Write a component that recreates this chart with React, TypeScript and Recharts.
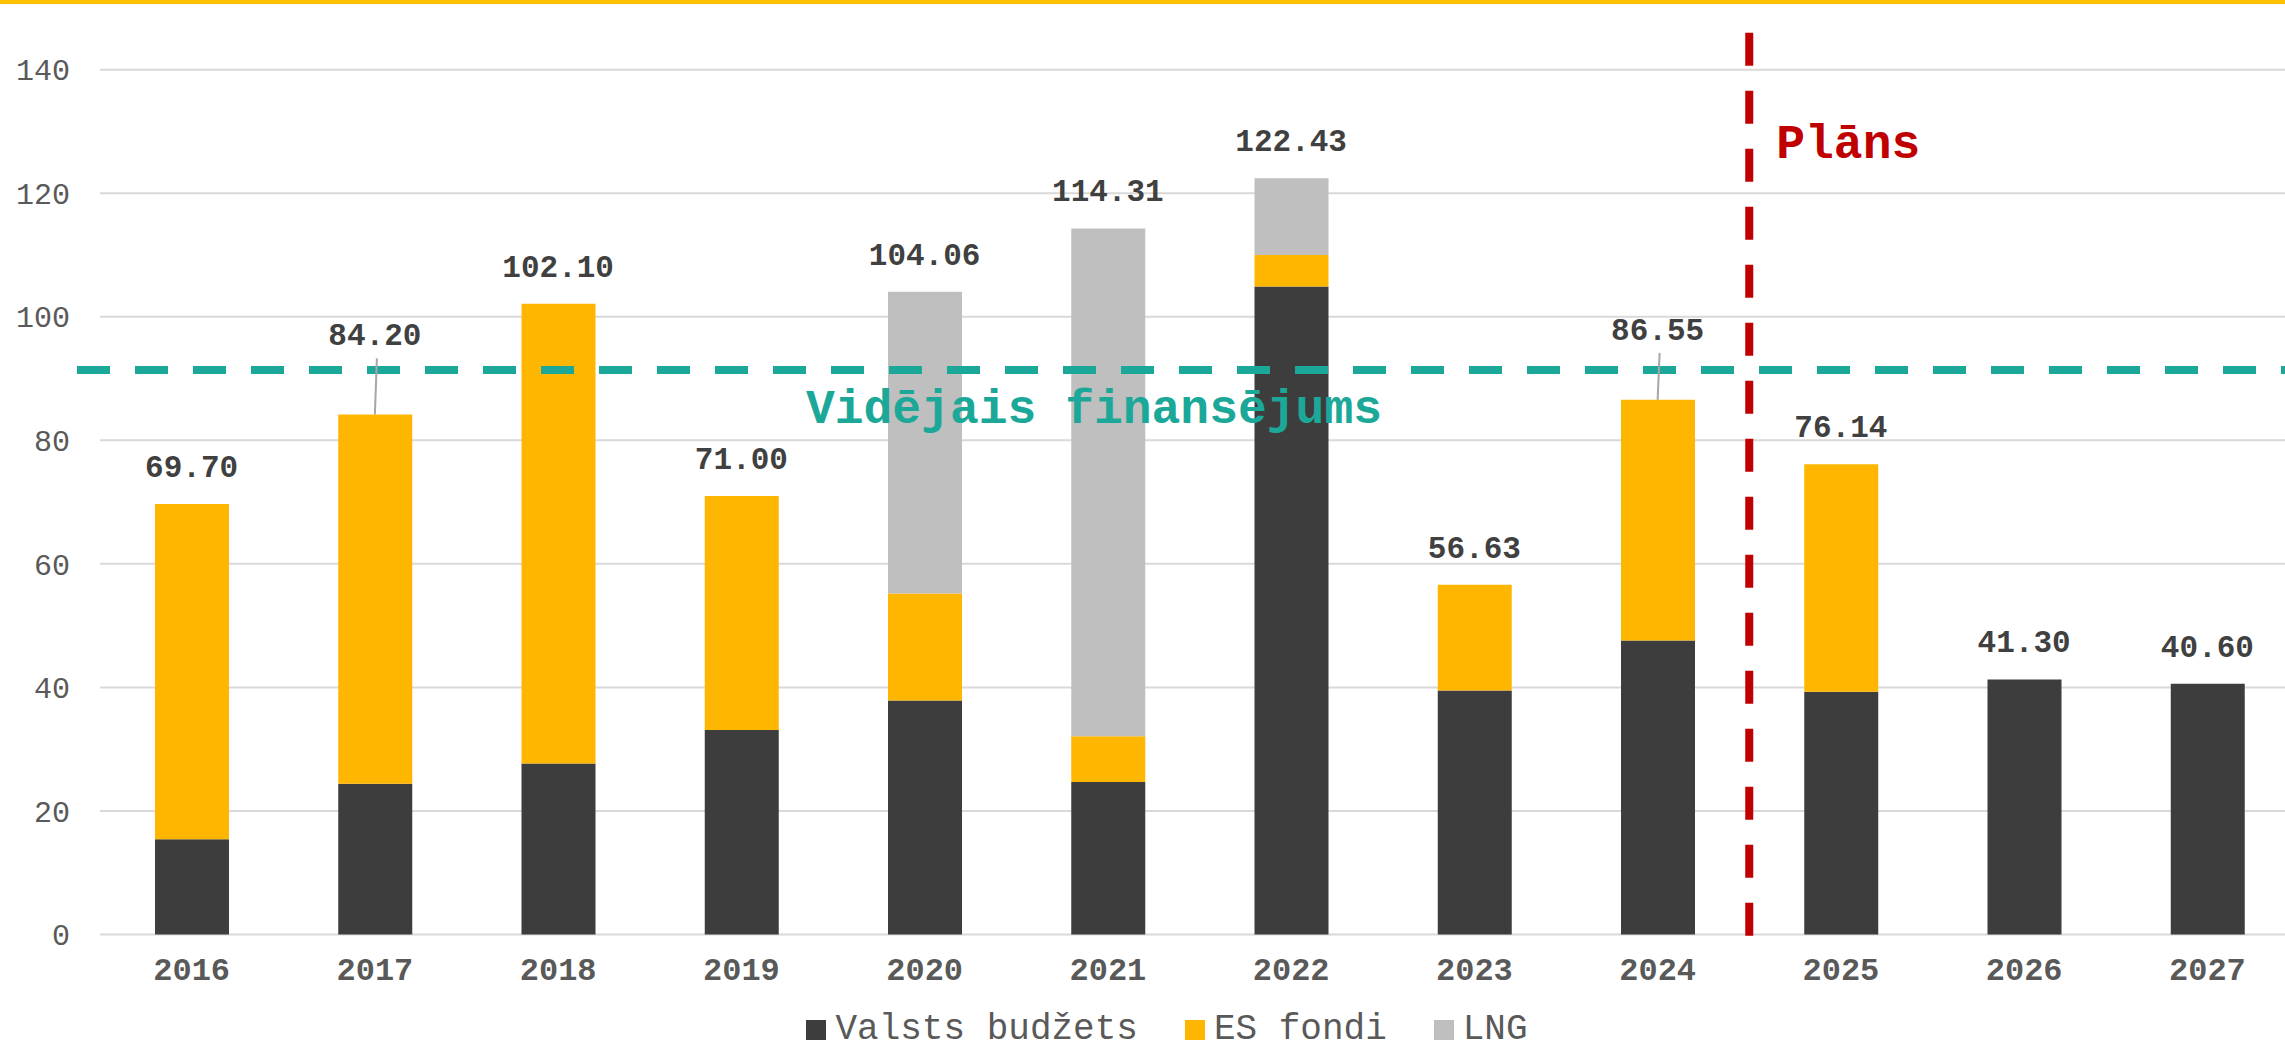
import {
  ComposedChart,
  Bar,
  Line,
  XAxis,
  YAxis,
  CartesianGrid,
  ReferenceLine,
  Legend,
  LabelList,
} from 'recharts';

const years = ['2016', '2017', '2018', '2019', '2020', '2021', '2022', '2023', '2024', '2025', '2026', '2027'];
const valstsBudzets = [15.4, 24.4, 27.7, 33.1, 37.9, 24.7, 104.9, 39.5, 47.6, 39.3, 41.3, 40.6];
const esFondi = [54.3, 59.8, 74.4, 37.9, 17.3, 7.4, 5.1, 17.13, 38.95, 36.84, 0, 0];
const lng = [0, 0, 0, 0, 48.86, 82.21, 12.43, 0, 0, 0, 0, 0];
const totals = [69.7, 84.2, 102.1, 71.0, 104.06, 114.31, 122.43, 56.63, 86.55, 76.14, 41.3, 40.6];
const yTicks = [0, 20, 40, 60, 80, 100, 120, 140];
const averageFunding = 91.4;
const planStartYear = '2025';

const data = years.map((year, i) => ({
  year,
  valsts: valstsBudzets[i],
  es: esFondi[i],
  lng: lng[i],
  total: totals[i],
}));

const series = [
  { key: 'valsts', name: 'Valsts budžets', color: '#3D3D3D' },
  { key: 'es', name: 'ES fondi', color: '#FFB600' },
  { key: 'lng', name: 'LNG', color: '#BFBFBF' },
];

// labels pushed up above the average line, with a leader line to the bar
const raisedLabels: Record<string, number> = { '2017': 42, '2024': 33 };

const font = '"Liberation Mono", "Courier New", monospace';
const teal = '#1BA898';
const red = '#C00000';
const axisColor = '#595959';

function TotalLabel(props: any) {
  const { x, y, value, index } = props;
  if (x == null || y == null) return null;
  const raise = raisedLabels[years[index]] ?? 0;
  const baseY = y - 27 - raise;
  return (
    <g>
      {raise > 0 && (
        <line x1={x + 2} y1={baseY + 13} x2={x} y2={y} stroke="#A6A6A6" strokeWidth={2} />
      )}
      <text
        x={x}
        y={baseY}
        textAnchor="middle"
        fontFamily={font}
        fontWeight="bold"
        fontSize={31}
        fill="#404040"
      >
        {Number(value).toFixed(2)}
      </text>
    </g>
  );
}

function AverageShape(props: any) {
  const { x1, x2, y1 } = props;
  return (
    <g>
      <line
        x1={x1 - 23}
        x2={x2}
        y1={y1}
        y2={y1}
        stroke={teal}
        strokeWidth={8}
        strokeDasharray="33 25"
      />
      <text
        x={x1 + (x2 - x1) * 0.452}
        y={y1 + 53}
        textAnchor="middle"
        fontFamily={font}
        fontWeight="bold"
        fontSize={48}
        fill={teal}
      >
        Vidējais finansējums
      </text>
    </g>
  );
}

function PlanShape(props: any) {
  const { x1, y1, y2 } = props;
  const top = Math.min(y1, y2);
  const bottom = Math.max(y1, y2);
  return (
    <g>
      <line
        x1={x1}
        x2={x1}
        y1={top - 37}
        y2={bottom + 6}
        stroke={red}
        strokeWidth={8}
        strokeDasharray="33 25"
      />
      <text x={x1 + 27} y={top + 88} fontFamily={font} fontWeight="bold" fontSize={48} fill={red}>
        Plāns
      </text>
    </g>
  );
}

function LegendContent() {
  return (
    <div
      style={{
        height: 40,
        display: 'flex',
        alignItems: 'center',
        justifyContent: 'center',
        paddingLeft: 35,
        fontFamily: font,
        fontSize: 36,
        color: axisColor,
      }}
    >
      {series.map((s, i) => (
        <div key={s.key} style={{ display: 'flex', alignItems: 'center', marginLeft: i === 0 ? 0 : 47 }}>
          <span style={{ width: 20, height: 20, background: s.color, marginRight: 9 }} />
          <span style={{ lineHeight: '40px' }}>{s.name}</span>
        </div>
      ))}
    </div>
  );
}

export default function App() {
  return (
    <div
      style={{
        position: 'absolute',
        top: 0,
        left: 0,
        width: 2285,
        height: 1050,
        overflow: 'hidden',
        background: '#fff',
        fontFamily: font,
      }}
    >
      <div style={{ position: 'absolute', top: 0, left: 0, right: 0, height: 4, background: '#FFC000', zIndex: 2 }} />
      <ComposedChart
        width={2299}
        height={1050}
        data={data}
        margin={{ top: 69.7, right: 0, bottom: 0, left: 0 }}
      >
        <CartesianGrid vertical={false} stroke="#D9D9D9" strokeWidth={2} />
        <XAxis
          dataKey="year"
          tickLine={false}
          axisLine={false}
          tickSize={0}
          tickMargin={23}
          height={75.5}
          interval={0}
          tick={{ fill: axisColor, fontSize: 32, fontWeight: 'bold', fontFamily: font }}
        />
        <YAxis
          domain={[0, 140]}
          ticks={yTicks}
          width={100}
          tickLine={false}
          axisLine={false}
          tickSize={0}
          tickMargin={30}
          tick={{ fill: axisColor, fontSize: 30, fontFamily: font }}
        />
        <Legend verticalAlign="bottom" content={<LegendContent />} />
        {series.map((s) => (
          <Bar
            key={s.key}
            dataKey={s.key}
            name={s.name}
            stackId="a"
            fill={s.color}
            barSize={74}
            isAnimationActive={false}
          />
        ))}
        <Line
          dataKey="total"
          stroke="none"
          dot={false}
          activeDot={false}
          legendType="none"
          isAnimationActive={false}
        >
          <LabelList dataKey="total" content={<TotalLabel />} />
        </Line>
        <ReferenceLine y={averageFunding} shape={<AverageShape />} />
        <ReferenceLine x={planStartYear} position="start" shape={<PlanShape />} />
      </ComposedChart>
    </div>
  );
}
